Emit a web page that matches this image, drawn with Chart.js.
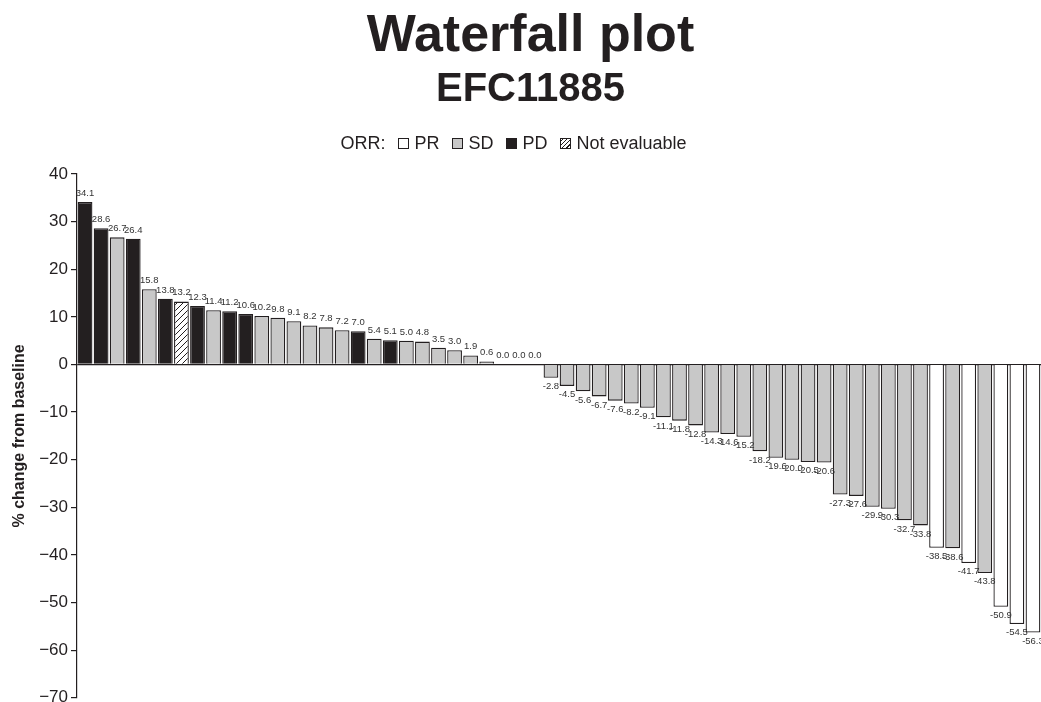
<!DOCTYPE html>
<html>
<head>
<meta charset="utf-8">
<script src="https://cdn.jsdelivr.net/npm/chart.js@4"></script>
<style>
  html, body { margin: 0; padding: 0; background: #fff; overflow: hidden; }
  #wrap { position: relative; width: 1041px; height: 702px; overflow: hidden; font-family: "Liberation Sans", Arial, sans-serif; color: #231f20; }
  #chart { position: absolute; left: 0; top: 0; }
  .title { position: absolute; left: 20px; width: 1021px; text-align: center; font-weight: bold; }
  #t1 { top: 3px; font-size: 52px; }
  #t2 { top: 65px; font-size: 40px; }
  #legend { position: absolute; top: 133px; left: 0; width: 1041px; text-align: center; font-size: 18px; padding-right: 14px; box-sizing: border-box; }
  #legend span.item { margin-left: 13px; }
  #legend i { display: inline-block; width: 11px; height: 11px; border: 1px solid #231f20; margin-right: 5px; vertical-align: 0px; box-sizing: border-box; }
</style>
</head>
<body>
<div id="wrap">
  <canvas id="chart" width="1041" height="711"></canvas>
  <div class="title" id="t1">Waterfall plot</div>
  <div class="title" id="t2">EFC11885</div>
  <div id="legend"></div>
</div>
<script>
// patient values (% change from baseline), sorted as in the plot
const values = [
  34.1, 28.6, 26.7, 26.4, 15.8, 13.8, 13.2, 12.3, 11.4, 11.2,
  10.6, 10.2, 9.8, 9.1, 8.2, 7.8, 7.2, 7.0, 5.4, 5.1,
  5.0, 4.8, 3.5, 3.0, 1.9, 0.6, 0.0, 0.0, 0.0, -2.8,
  -4.5, -5.6, -6.7, -7.6, -8.2, -9.1, -11.1, -11.8, -12.8, -14.3,
  -14.6, -15.2, -18.2, -19.6, -20.0, -20.5, -20.6, -27.3, -27.6, -29.9,
  -30.3, -32.7, -33.8, -38.5, -38.6, -41.7, -43.8, -50.9, -54.5, -56.3
];
// best overall response per patient
const responses = [
  "PD", "PD", "SD", "PD", "SD", "PD", "NE", "PD", "SD", "PD",
  "PD", "SD", "SD", "SD", "SD", "SD", "SD", "PD", "SD", "PD",
  "SD", "SD", "SD", "SD", "SD", "SD", "SD", "SD", "SD", "SD",
  "SD", "SD", "SD", "SD", "SD", "SD", "SD", "SD", "SD", "SD",
  "SD", "SD", "SD", "SD", "SD", "SD", "SD", "SD", "SD", "SD",
  "SD", "SD", "SD", "PR", "SD", "PR", "SD", "PR", "PR", "PR"
];
const legendKeys = ["PR", "SD", "PD", "NE"];
const legendNames = ["PR", "SD", "PD", "Not evaluable"];
const yTicks = [40, 30, 20, 10, 0, -10, -20, -30, -40, -50, -60, -70];
const labels = values.map((v, i) => "P" + (i + 1));

// hatched fill for not evaluable
function hatch() {
  const c = document.createElement("canvas");
  c.width = 6; c.height = 6;
  const g = c.getContext("2d");
  g.fillStyle = "#fff";
  g.fillRect(0, 0, 6, 6);
  g.strokeStyle = "#231f20";
  g.lineWidth = 1;
  g.beginPath();
  g.moveTo(-1, 7); g.lineTo(7, -1);
  g.moveTo(-4, 4); g.lineTo(4, -4);
  g.moveTo(2, 10); g.lineTo(10, 2);
  g.stroke();
  return g.createPattern(c, "repeat");
}

const fills = { PR: "#ffffff", SD: "#c8c8c8", PD: "#231f20", NE: hatch() };

// legend
const legendEl = document.getElementById("legend");
let html = "ORR:";
legendKeys.forEach((k, i) => {
  let st = "";
  if (k === "SD") st = "background:#c8c8c8";
  if (k === "PD") st = "background:#231f20";
  if (k === "NE") st = "background:repeating-linear-gradient(-45deg,#fff 0 2px,#231f20 2px 3px)";
  html += '<span class="item"><i style="' + st + '"></i>' + legendNames[i] + "</span>";
});
legendEl.innerHTML = html;

// value labels over / under each bar
const valueLabels = {
  id: "valueLabels",
  afterDatasetsDraw(chart) {
    const c = chart.ctx;
    const meta = chart.getDatasetMeta(0);
    c.save();
    c.font = "9.5px 'Liberation Sans', Arial, sans-serif";
    c.fillStyle = "#333";
    c.textAlign = "center";
    meta.data.forEach((bar, i) => {
      const v = values[i];
      if (v >= 0) {
        c.textBaseline = "bottom";
        c.fillText(v.toFixed(1), bar.x, bar.y - 4);
      } else {
        c.textBaseline = "top";
        c.fillText(v.toFixed(1), bar.x, bar.y + 4);
      }
    });
    c.restore();
  }
};

new Chart(document.getElementById("chart"), {
  type: "bar",
  data: {
    labels: labels,
    datasets: [{
      data: values,
      backgroundColor: responses.map(r => fills[r]),
      borderColor: "#231f20",
      borderWidth: 1.3,
      categoryPercentage: 1,
      barPercentage: 0.92
    }]
  },
  options: {
    responsive: false,
    animation: false,
    layout: { padding: { top: 174, right: 0, bottom: 0, left: 0 } },
    plugins: { legend: { display: false }, tooltip: { enabled: false }, title: { display: false } },
    scales: {
      x: { display: false },
      y: {
        min: -70, max: 40,
        afterFit(scale) { scale.width = 77; },
        afterBuildTicks(scale) { scale.ticks = yTicks.map(v => ({ value: v })); },
        ticks: {
          color: "#231f20",
          font: { family: "'Liberation Sans', Arial, sans-serif", size: 17 },
          padding: 3,
          callback: v => String(v).replace("-", "\u2212")
        },
        grid: {
          drawOnChartArea: true,
          color: ctx => (ctx.tick && ctx.tick.value === 0) ? "#231f20" : "rgba(0,0,0,0)",
          tickColor: "#231f20",
          tickLength: 6,
          lineWidth: 1.2
        },
        border: { display: true, color: "#231f20", width: 1.2 },
        title: {
          display: true,
          text: "% change from baseline",
          color: "#231f20",
          font: { family: "'Liberation Sans', Arial, sans-serif", size: 16, weight: "bold" },
          padding: { top: 10, bottom: 0 }
        }
      }
    }
  },
  plugins: [valueLabels]
});
</script>
</body>
</html>
